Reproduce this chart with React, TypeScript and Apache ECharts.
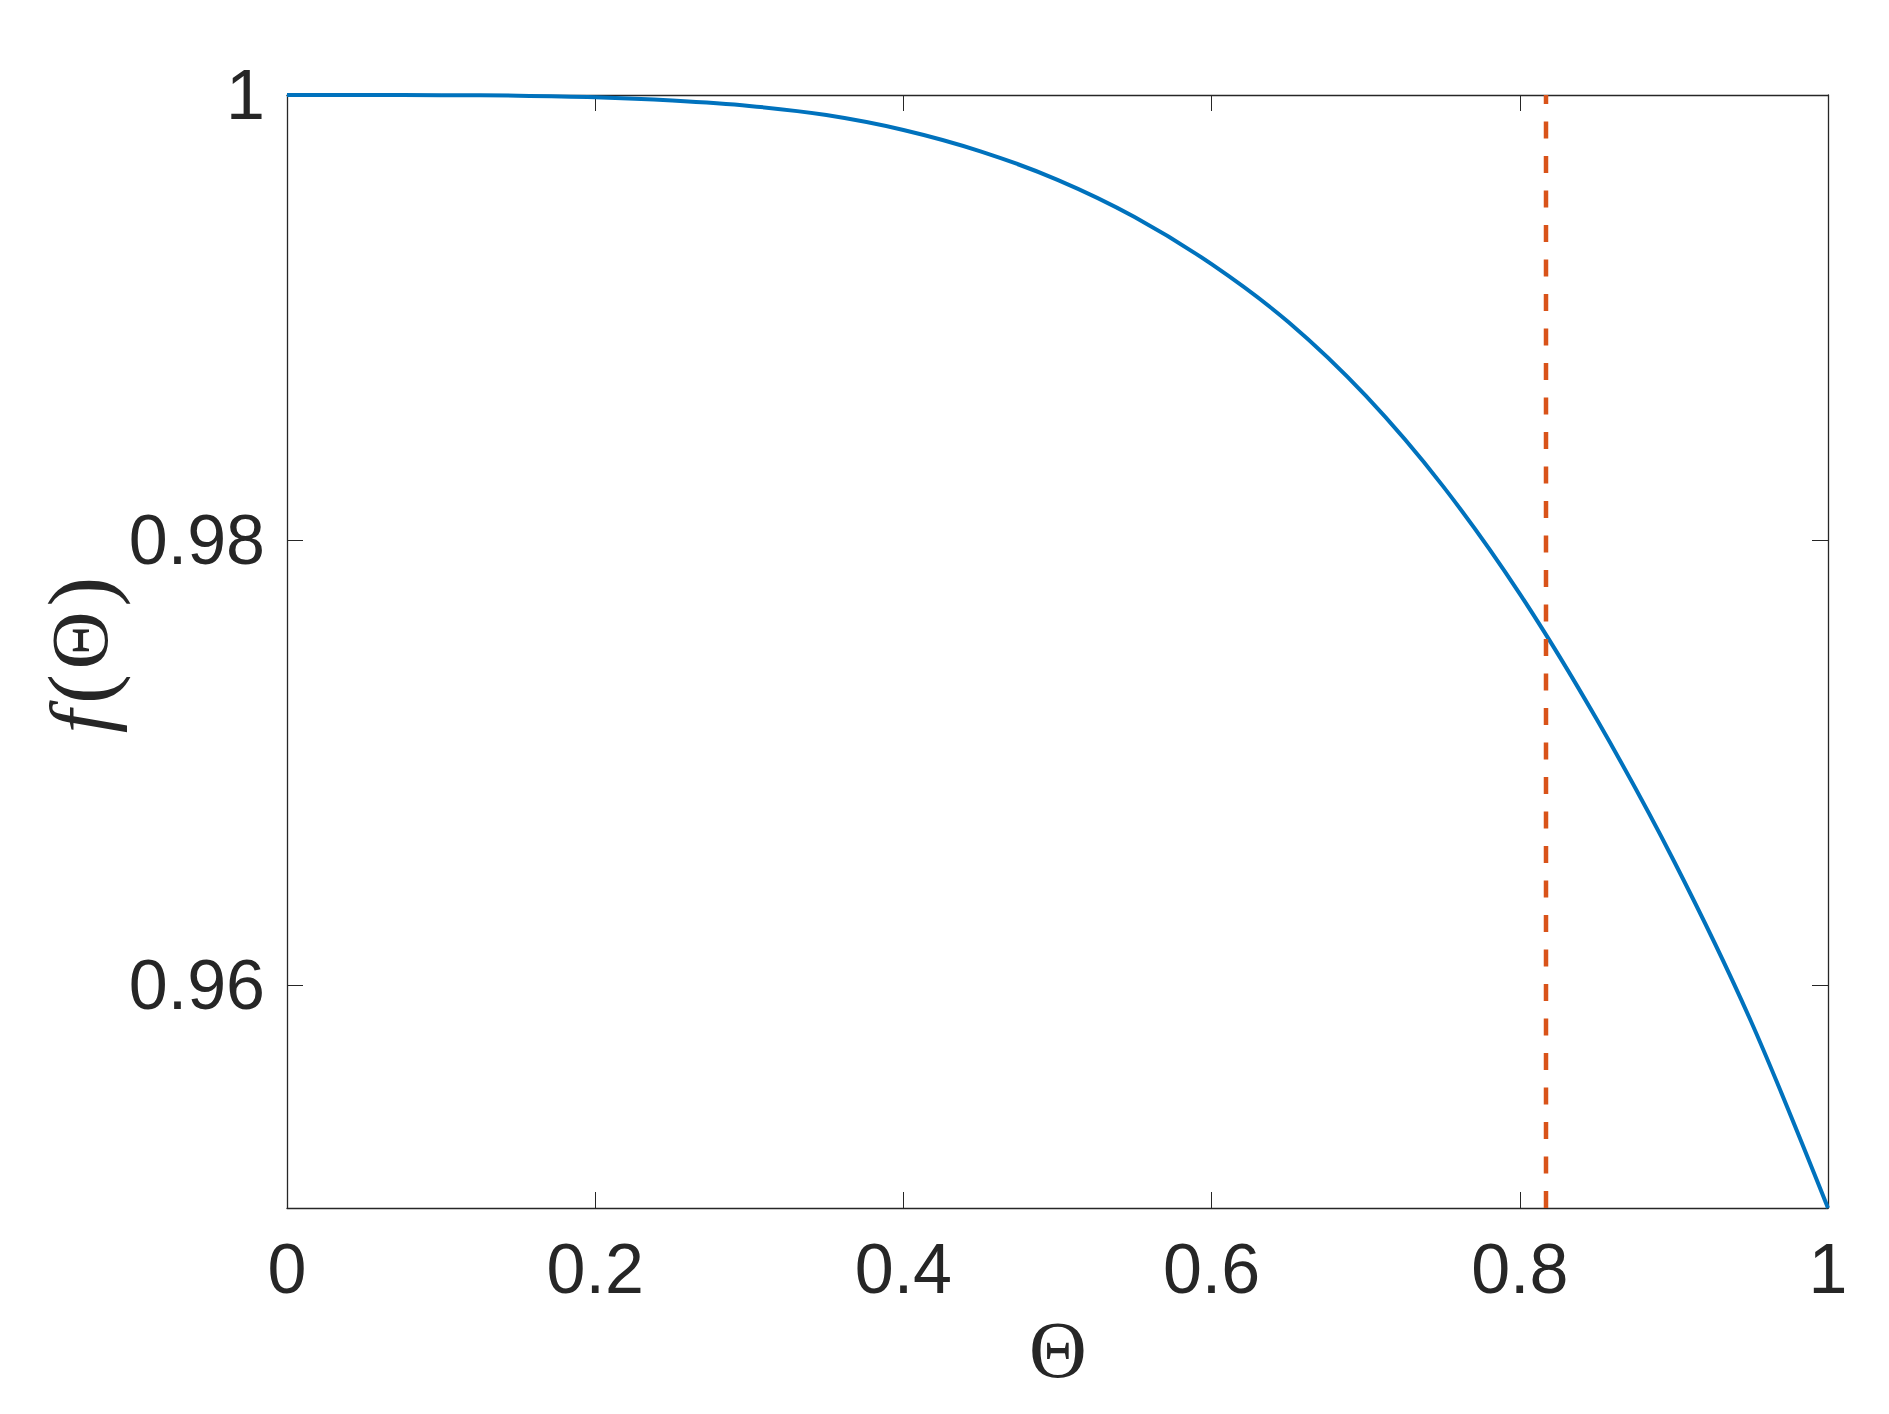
import React, { useEffect, useRef } from "react";
import * as echarts from "echarts";

const theta = [0, 0.05, 0.1, 0.15, 0.2, 0.25, 0.3, 0.35, 0.4, 0.45, 0.5, 0.55, 0.6, 0.65, 0.7, 0.75, 0.8, 0.85, 0.9, 0.95, 1.0];
const fTheta = [1.0, 1.0, 0.99999, 0.99997, 0.9999, 0.99975, 0.99951, 0.9991, 0.99843, 0.99747, 0.99619, 0.99452, 0.9924, 0.98979, 0.98649, 0.98244, 0.97759, 0.97194, 0.96559, 0.95839, 0.95];
const xTicks = [0, 0.2, 0.4, 0.6, 0.8, 1];
const yTicks = [0.96, 0.98, 1];
const markerTheta = 0.817;
const markerRange = [0.95, 1.0];

export default function App() {
  const ref = useRef<HTMLDivElement>(null);
  useEffect(() => {
    const chart = echarts.init(ref.current!, null, { renderer: "svg" });
    const axisColor = "#262626";
    const lineData = theta.map((t, i) => [t, fTheta[i]]);
    const axisLine = { show: true, onZero: false, lineStyle: { color: axisColor, width: 1.3 } };
    const labelStyle = { fontSize: 70, fontFamily: "Liberation Sans, Arial, sans-serif", color: axisColor };
    chart.setOption({
      animation: false,
      backgroundColor: "#ffffff",
      grid: { left: 287, right: 61, top: 95, bottom: 206, containLabel: false },
      xAxis: [
        {
          type: "value", min: 0, max: 1, position: "bottom",
          axisLine,
          axisTick: { show: true, inside: true, length: 16, customValues: xTicks, lineStyle: { color: axisColor, width: 1 } },
          axisLabel: { show: true, customValues: xTicks, margin: 26, ...labelStyle },
          splitLine: { show: false },
        },
        {
          type: "value", min: 0, max: 1, position: "top",
          axisLine,
          axisTick: { show: true, inside: true, length: 16, customValues: xTicks, lineStyle: { color: axisColor, width: 1 } },
          axisLabel: { show: false },
          splitLine: { show: false },
        },
      ],
      yAxis: [
        {
          type: "value", min: 0.95, max: 1, position: "left",
          axisLine,
          axisTick: { show: true, inside: true, length: 16, customValues: yTicks, lineStyle: { color: axisColor, width: 1 } },
          axisLabel: { show: true, customValues: yTicks, margin: 22, ...labelStyle },
          splitLine: { show: false },
        },
        {
          type: "value", min: 0.95, max: 1, position: "right",
          axisLine,
          axisTick: { show: true, inside: true, length: 16, customValues: yTicks, lineStyle: { color: axisColor, width: 1 } },
          axisLabel: { show: false },
          splitLine: { show: false },
        },
      ],
      series: [
        {
          type: "line", data: lineData, showSymbol: false, symbol: "none",
          smooth: 0.3,
          xAxisIndex: 0, yAxisIndex: 0,
          lineStyle: { color: "#0072BD", width: 4 },
        },
        {
          type: "line", data: markerRange.map((v) => [markerTheta, v]), showSymbol: false, symbol: "none",
          xAxisIndex: 0, yAxisIndex: 0,
          lineStyle: { color: "#D95319", width: 4.5, type: [17, 17.5] },
        },
      ],
      graphic: [
        {
          type: "text",
          x: 80, y: 655, rotation: Math.PI / 2,
          style: {
            text: "{f|f}{g| }{p|(}{g|\u2009}{t|Θ}{g|\u2009}{p|)}",
            align: "center", verticalAlign: "middle",
            fill: axisColor,
            rich: {
              f: { fontFamily: "Liberation Serif", fontStyle: "italic", fontSize: 84, fill: axisColor },
              g: { fontFamily: "Liberation Serif", fontSize: 24, fill: axisColor },
              p: { fontFamily: "Liberation Serif", fontSize: 90, fill: axisColor },
              t: { fontFamily: "Liberation Serif", fontSize: 80, fill: axisColor },
            },
          },
        },
        {
          type: "text",
          x: 1058, y: 1350,
          style: {
            text: "Θ",
            align: "center", verticalAlign: "middle",
            fontFamily: "Liberation Serif", fontSize: 80, fill: axisColor,
          },
        },
      ],
    });
    return () => chart.dispose();
  }, []);
  return <div ref={ref} style={{ position: "absolute", left: 0, top: 0, width: 1889, height: 1414 }} />;
}
